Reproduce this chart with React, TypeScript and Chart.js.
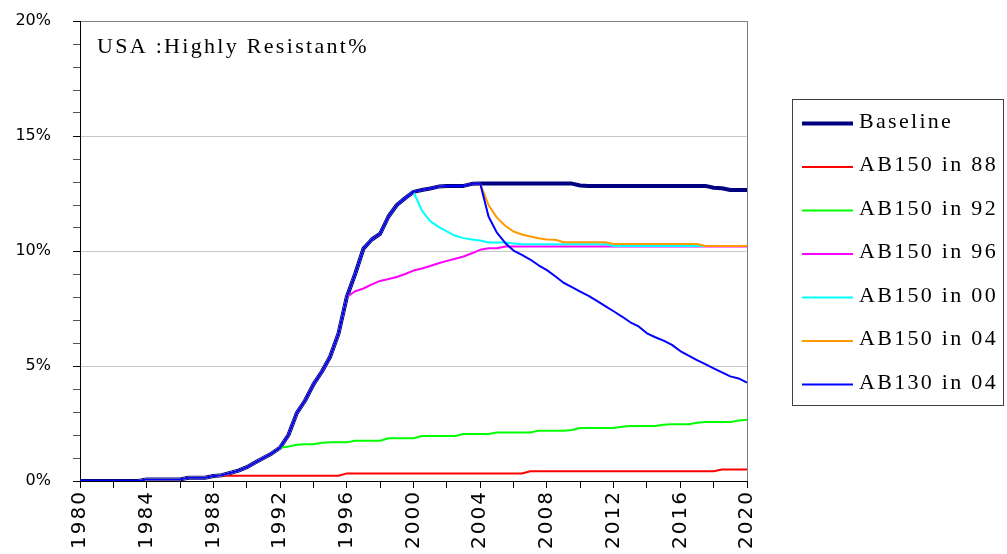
import React, { useEffect, useRef } from 'react';
import { Chart, registerables } from 'chart.js';

Chart.register(...registerables);

// ---------- DATA ----------
const TITLE = 'USA :Highly Resistant%';

const years = [
  1980, 1980.5, 1981, 1981.5, 1982, 1982.5, 1983, 1983.5, 1984, 1984.5,
  1985, 1985.5, 1986, 1986.5, 1987, 1987.5, 1988, 1988.5, 1989, 1989.5,
  1990, 1990.5, 1991, 1991.5, 1992, 1992.5, 1993, 1993.5, 1994, 1994.5,
  1995, 1995.5, 1996, 1996.5, 1997, 1997.5, 1998, 1998.5, 1999, 1999.5,
  2000, 2000.5, 2001, 2001.5, 2002, 2002.5, 2003, 2003.5, 2004, 2004.5,
  2005, 2005.5, 2006, 2006.5, 2007, 2007.5, 2008, 2008.5, 2009, 2009.5,
  2010, 2010.5, 2011, 2011.5, 2012, 2012.5, 2013, 2013.5, 2014, 2014.5,
  2015, 2015.5, 2016, 2016.5, 2017, 2017.5, 2018, 2018.5, 2019, 2019.5,
  2020,
];

// Baseline (% highly resistant), 1980..2020 every half year
const baseline = [
  0, 0, 0, 0, 0, 0, 0, 0,
  0.07, 0.07, 0.07, 0.07, 0.07,
  0.14, 0.14, 0.14,
  0.22, 0.25, 0.35, 0.45, 0.6, 0.8, 1.0, 1.2, 1.45,
  2.0, 2.95, 3.5, 4.2, 4.75, 5.4, 6.4, 8.0,
  9.0, 10.1, 10.5, 10.75, 11.5, 12.0, 12.3, 12.57,
  12.65, 12.72, 12.8, 12.83, 12.83, 12.83, 12.92, 12.93,
  12.93, 12.93, 12.93, 12.93, 12.93, 12.93, 12.93, 12.93, 12.93, 12.93, 12.93,
  12.85,
  12.83, 12.83, 12.83, 12.83, 12.83, 12.83, 12.83, 12.83, 12.83, 12.83, 12.83, 12.83, 12.83, 12.83, 12.83,
  12.75, 12.73, 12.65, 12.65, 12.65,
];

// Scenarios: values from their start year onward (before that they follow the baseline)
const ab150in88Start = 1988.5;
const ab150in88 = [
  0.23,
  0.23, 0.23, 0.23, 0.23, 0.23, 0.23, 0.23, 0.23, 0.23, 0.23, 0.23, 0.23, 0.23, 0.23,
  0.33, 0.33, 0.33, 0.33, 0.33, 0.33, 0.33, 0.33, 0.33, 0.33, 0.33,
  0.33, 0.33, 0.33, 0.33, 0.33, 0.33, 0.33, 0.33, 0.33, 0.33, 0.33,
  0.42, 0.42, 0.42, 0.42, 0.42, 0.42, 0.42, 0.42, 0.42, 0.42, 0.42, 0.42,
  0.42, 0.42, 0.42, 0.42, 0.42, 0.42, 0.42, 0.42, 0.42, 0.42, 0.42,
  0.5, 0.5, 0.5, 0.5,
];

const ab150in92Start = 1992;
const ab150in92 = [
  1.45, 1.5, 1.58, 1.6, 1.6, 1.66, 1.68, 1.68, 1.68, 1.75,
  1.75, 1.75, 1.75, 1.86, 1.86, 1.86, 1.86, 1.96, 1.96, 1.96,
  1.96, 1.96, 2.04, 2.04, 2.04, 2.04, 2.11, 2.11, 2.11, 2.11,
  2.11, 2.19, 2.19, 2.19, 2.19, 2.22, 2.3, 2.3, 2.3, 2.3,
  2.3, 2.36, 2.39, 2.39, 2.39, 2.39, 2.45, 2.47, 2.47, 2.47,
  2.53, 2.56, 2.56, 2.56, 2.56, 2.63, 2.66,
];

const ab150in96Start = 1996;
const ab150in96 = [
  8.0, 8.25, 8.37, 8.55, 8.7, 8.78, 8.87, 9.0, 9.15, 9.24,
  9.35, 9.47, 9.57, 9.66, 9.76, 9.9, 10.05, 10.12, 10.12, 10.2,
  10.2, 10.2, 10.2, 10.2, 10.2, 10.2, 10.2, 10.2, 10.2, 10.2,
  10.2, 10.2, 10.2, 10.2, 10.2, 10.2, 10.2, 10.2, 10.2, 10.2,
  10.2, 10.2, 10.2, 10.2, 10.2, 10.2, 10.2, 10.2, 10.2,
];

const ab150in00Start = 2000;
const ab150in00 = [
  12.57, 11.76, 11.3, 11.05, 10.85, 10.66, 10.56, 10.5, 10.46, 10.37,
  10.37, 10.37, 10.33,
  10.29, 10.29, 10.29, 10.29, 10.29, 10.29, 10.29, 10.29, 10.29, 10.29, 10.29,
  10.22, 10.22, 10.22, 10.22, 10.22, 10.22, 10.22, 10.22, 10.22,
  10.22, 10.22, 10.22, 10.22, 10.22, 10.22, 10.22, 10.22,
];

const ab150in04Start = 2004;
const ab150in04 = [
  12.93, 12.0, 11.45, 11.1, 10.85, 10.72, 10.63, 10.55, 10.5, 10.49,
  10.38, 10.38, 10.38, 10.38, 10.38, 10.38,
  10.3, 10.3, 10.3, 10.3, 10.3, 10.3, 10.3, 10.3, 10.3, 10.3, 10.3,
  10.22, 10.22, 10.22, 10.22, 10.22, 10.22,
];

const ab130in04Start = 2004;
const ab130in04 = [
  12.93, 11.5, 10.8, 10.35, 10.02, 9.83, 9.63, 9.38, 9.17, 8.9,
  8.62, 8.43, 8.23, 8.05, 7.83, 7.6, 7.38, 7.15, 6.9, 6.72,
  6.42, 6.25, 6.1, 5.92, 5.65, 5.45, 5.26, 5.08, 4.9, 4.72,
  4.55, 4.46, 4.28,
];

const yTickValues = [0, 5, 10, 15, 20];
const xLabelYears = [1980, 1984, 1988, 1992, 1996, 2000, 2004, 2008, 2012, 2016, 2020];

// ---------- helpers ----------
function baselinePoints() {
  return years.map((x, i) => ({ x, y: baseline[i] }));
}
function scenarioPoints(start: number, values: number[]) {
  const s = years.indexOf(start);
  const pre = years.slice(0, s).map((x, i) => ({ x, y: baseline[i] }));
  const post = values.map((v, i) => ({ x: years[s + i], y: v })).filter((p) => p.x !== undefined);
  return pre.concat(post);
}

const SERIES = [
  { label: 'Baseline', color: '#000080', width: 4, data: baselinePoints(), order: 7 },
  { label: 'AB150 in 88', color: '#FF0000', width: 2, data: scenarioPoints(ab150in88Start, ab150in88), order: 6 },
  { label: 'AB150 in 92', color: '#00FF00', width: 2, data: scenarioPoints(ab150in92Start, ab150in92), order: 5 },
  { label: 'AB150 in 96', color: '#FF00FF', width: 2, data: scenarioPoints(ab150in96Start, ab150in96), order: 4 },
  { label: 'AB150 in 00', color: '#00FFFF', width: 2, data: scenarioPoints(ab150in00Start, ab150in00), order: 3 },
  { label: 'AB150 in 04', color: '#FF9900', width: 2, data: scenarioPoints(ab150in04Start, ab150in04), order: 2 },
  { label: 'AB130 in 04', color: '#0000FF', width: 2, data: scenarioPoints(ab130in04Start, ab130in04), order: 1 },
];

const overlayPlugin = {
  id: 'overlay',
  beforeDraw(chart: any) {
    const xs = chart.scales.x;
    if (xs && !xs.__patched) {
      const orig = xs.drawLabels.bind(xs);
      xs.drawLabels = (area: any) => {
        const c = chart.ctx;
        c.save();
        c.letterSpacing = '2px';
        orig(area);
        c.restore();
      };
      xs.__patched = true;
    }
  },
  afterDraw(chart: any) {
    const c = chart.ctx as CanvasRenderingContext2D & { letterSpacing: string };
    const area = chart.chartArea;
    c.save();
    // title inside plot
    c.font = '22px "Liberation Serif"';
    c.letterSpacing = '2.3px';
    c.fillStyle = '#000';
    c.textAlign = 'left';
    c.textBaseline = 'alphabetic';
    c.fillText(TITLE, area.left + 17, area.top + 32);

    // legend box
    const bx = 792.5, by = 99.5, bw = 211, bh = 306;
    c.fillStyle = '#fff';
    c.fillRect(bx, by, bw, bh);
    c.strokeStyle = '#404040';
    c.lineWidth = 1;
    c.strokeRect(bx, by, bw, bh);
    SERIES.forEach((s, i) => {
      const y = 123.5 + i * 43.5;
      c.beginPath();
      c.strokeStyle = s.color;
      c.lineWidth = s.width;
      c.moveTo(802, y);
      c.lineTo(853, y);
      c.stroke();
      c.fillStyle = '#000';
      c.fillText(s.label, 859, y + 4);
    });
    c.restore();
  },
};

export default function App() {
  const ref = useRef<HTMLCanvasElement | null>(null);
  useEffect(() => {
    document.body.style.margin = '0';
    const canvas = ref.current;
    if (!canvas) return;
    const chart = new Chart(canvas, {
      type: 'line',
      data: {
        datasets: SERIES.map((s) => ({
          label: s.label,
          data: s.data,
          borderColor: s.color,
          backgroundColor: s.color,
          borderWidth: s.width,
          pointRadius: 0,
          tension: 0,
          fill: false,
          order: s.order,
          borderJoinStyle: 'round' as const,
        })),
      },
      options: {
        animation: false,
        responsive: false,
        devicePixelRatio: 1,
        events: [],
        layout: { padding: { top: 21, right: 260, bottom: 0, left: 0 } },
        plugins: { legend: { display: false }, tooltip: { enabled: false } },
        scales: {
          x: {
            type: 'linear',
            min: 1980,
            max: 2020,
            afterFit: (s: any) => {
              s.height = 73;
              s.paddingLeft = 0; s.paddingRight = 0; s.paddingTop = 0; s.paddingBottom = 0;
            },
            ticks: {
              stepSize: 2,
              autoSkip: false,
              maxRotation: 90,
              minRotation: 90,
              padding: 2,
              color: '#000',
              font: { family: '"DejaVu Sans"', size: 20 },
              callback: (v: any) => (xLabelYears.includes(Number(v)) ? String(v) : ''),
            },
            grid: {
              drawOnChartArea: true,
              color: (ctx: any) => (ctx.tick && ctx.tick.value === 2020 ? '#808080' : 'rgba(0,0,0,0)'),
              tickColor: '#000',
              tickLength: 7,
            },
            border: { color: '#000', width: 1 },
          },
          y: {
            type: 'linear',
            min: 0,
            max: 20,
            afterFit: (s: any) => {
              s.width = 80;
              s.paddingLeft = 0; s.paddingRight = 0; s.paddingTop = 0; s.paddingBottom = 0;
            },
            ticks: {
              stepSize: 1,
              autoSkip: false,
              padding: 22,
              color: '#000',
              font: { family: '"DejaVu Sans"', size: 16 },
              callback: (v: any) => (yTickValues.includes(Number(v)) ? v + '%' : ''),
            },
            grid: {
              drawOnChartArea: true,
              color: (ctx: any) => {
                const v = ctx.tick ? ctx.tick.value : -1;
                if (v === 20) return '#808080';
                if (v === 5 || v === 10 || v === 15) return '#c8c8c8';
                return 'rgba(0,0,0,0)';
              },
              tickColor: (ctx: any) => (ctx.tick && ctx.tick.value % 5 === 0 ? '#000' : '#555'),
              tickLength: 7,
            },
            border: { color: '#000', width: 1 },
          },
        },
      },
      plugins: [overlayPlugin],
    });
    return () => chart.destroy();
  }, []);
  return (
    <div style={{ width: 1007, height: 554, background: '#fff' }}>
      <canvas ref={ref} width={1007} height={554} style={{ display: 'block' }} />
    </div>
  );
}
